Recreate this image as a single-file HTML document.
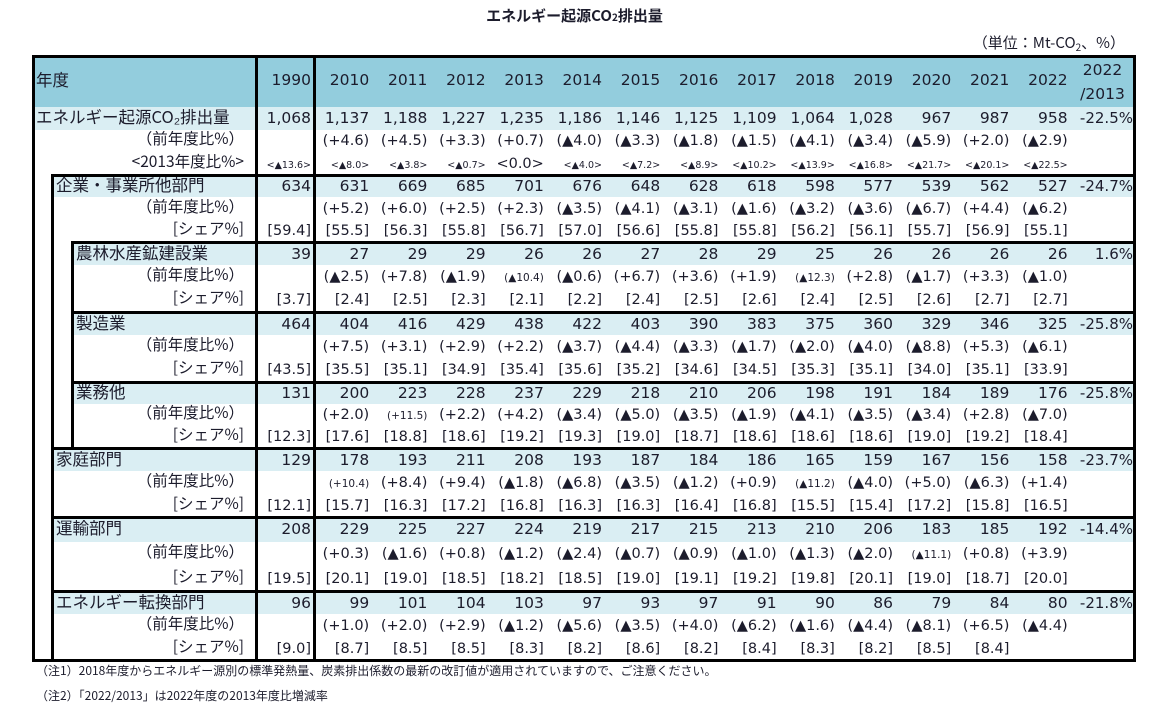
<!DOCTYPE html>
<html><head><meta charset="utf-8">
<style>
html,body{margin:0;padding:0;background:#fff;}
#root{position:relative;width:1149px;height:717px;overflow:hidden;font-family:"DejaVu Sans","Noto Sans CJK JP",sans-serif;color:#1c1c2c;}
.c{position:absolute;white-space:nowrap;line-height:1;}
.ln{position:absolute;background:#000;}
.bg{position:absolute;}
</style></head><body>
<div id="root">
<div class="c" style="left:0;width:1149px;text-align:center;top:8px;font-weight:bold;font-size:15px;font-family:'Noto Sans CJK JP',sans-serif;">エネルギー起源CO<span style="font-size:10px">2</span>排出量</div>
<div class="c" style="right:24px;top:35px;font-size:15px;font-family:'Noto Sans CJK JP',sans-serif;">（単位：Mt-CO<span style="font-size:10px;vertical-align:-3px">2</span>、%）</div>
<div class="c" style="left:36px;top:665px;font-size:12px;font-family:'Noto Sans CJK JP',sans-serif;">（注1）2018年度からエネルギー源別の標準発熱量、炭素排出係数の最新の改訂値が適用されていますので、ご注意ください。</div>
<div class="c" style="left:36px;top:690px;font-size:12px;font-family:'Noto Sans CJK JP',sans-serif;">（注2）「2022/2013」は2022年度の2013年度比増減率</div>
</div>
<script>
const years = ["1990","2010","2011","2012","2013","2014","2015","2016","2017","2018","2019","2020","2021","2022"];
const sectorNames = ["エネルギー起源CO₂排出量","企業・事業所他部門","農林水産鉱建設業","製造業","業務他","家庭部門","運輸部門","エネルギー転換部門"];
const sectorIndent = [0,1,2,2,2,1,1,1];
const totals = [
["1,068","1,137","1,188","1,227","1,235","1,186","1,146","1,125","1,109","1,064","1,028","967","987","958"],
["634","631","669","685","701","676","648","628","618","598","577","539","562","527"],
["39","27","29","29","26","26","27","28","29","25","26","26","26","26"],
["464","404","416","429","438","422","403","390","383","375","360","329","346","325"],
["131","200","223","228","237","229","218","210","206","198","191","184","189","176"],
["129","178","193","211","208","193","187","184","186","165","159","167","156","158"],
["208","229","225","227","224","219","217","215","213","210","206","183","185","192"],
["96","99","101","104","103","97","93","97","91","90","86","79","84","80"]];
const change2013 = ["-22.5%","-24.7%","1.6%","-25.8%","-25.8%","-23.7%","-14.4%","-21.8%"];
const yoy = [
["","(+4.6)","(+4.5)","(+3.3)","(+0.7)","(▲4.0)","(▲3.3)","(▲1.8)","(▲1.5)","(▲4.1)","(▲3.4)","(▲5.9)","(+2.0)","(▲2.9)"],
["","(+5.2)","(+6.0)","(+2.5)","(+2.3)","(▲3.5)","(▲4.1)","(▲3.1)","(▲1.6)","(▲3.2)","(▲3.6)","(▲6.7)","(+4.4)","(▲6.2)"],
["","(▲2.5)","(+7.8)","(▲1.9)","(▲10.4)","(▲0.6)","(+6.7)","(+3.6)","(+1.9)","(▲12.3)","(+2.8)","(▲1.7)","(+3.3)","(▲1.0)"],
["","(+7.5)","(+3.1)","(+2.9)","(+2.2)","(▲3.7)","(▲4.4)","(▲3.3)","(▲1.7)","(▲2.0)","(▲4.0)","(▲8.8)","(+5.3)","(▲6.1)"],
["","(+2.0)","(+11.5)","(+2.2)","(+4.2)","(▲3.4)","(▲5.0)","(▲3.5)","(▲1.9)","(▲4.1)","(▲3.5)","(▲3.4)","(+2.8)","(▲7.0)"],
["","(+10.4)","(+8.4)","(+9.4)","(▲1.8)","(▲6.8)","(▲3.5)","(▲1.2)","(+0.9)","(▲11.2)","(▲4.0)","(+5.0)","(▲6.3)","(+1.4)"],
["","(+0.3)","(▲1.6)","(+0.8)","(▲1.2)","(▲2.4)","(▲0.7)","(▲0.9)","(▲1.0)","(▲1.3)","(▲2.0)","(▲11.1)","(+0.8)","(+3.9)"],
["","(+1.0)","(+2.0)","(+2.9)","(▲1.2)","(▲5.6)","(▲3.5)","(+4.0)","(▲6.2)","(▲1.6)","(▲4.4)","(▲8.1)","(+6.5)","(▲4.4)"]];
const vs2013 = ["<▲13.6>","<▲8.0>","<▲3.8>","<▲0.7>","<0.0>","<▲4.0>","<▲7.2>","<▲8.9>","<▲10.2>","<▲13.9>","<▲16.8>","<▲21.7>","<▲20.1>","<▲22.5>"];
const shares = [null,
["[59.4]","[55.5]","[56.3]","[55.8]","[56.7]","[57.0]","[56.6]","[55.8]","[55.8]","[56.2]","[56.1]","[55.7]","[56.9]","[55.1]"],
["[3.7]","[2.4]","[2.5]","[2.3]","[2.1]","[2.2]","[2.4]","[2.5]","[2.6]","[2.4]","[2.5]","[2.6]","[2.7]","[2.7]"],
["[43.5]","[35.5]","[35.1]","[34.9]","[35.4]","[35.6]","[35.2]","[34.6]","[34.5]","[35.3]","[35.1]","[34.0]","[35.1]","[33.9]"],
["[12.3]","[17.6]","[18.8]","[18.6]","[19.2]","[19.3]","[19.0]","[18.7]","[18.6]","[18.6]","[18.6]","[19.0]","[19.2]","[18.4]"],
["[12.1]","[15.7]","[16.3]","[17.2]","[16.8]","[16.3]","[16.3]","[16.4]","[16.8]","[15.5]","[15.4]","[17.2]","[15.8]","[16.5]"],
["[19.5]","[20.1]","[19.0]","[18.5]","[18.2]","[18.5]","[19.0]","[19.1]","[19.2]","[19.8]","[20.1]","[19.0]","[18.7]","[20.0]"],
["[9.0]","[8.7]","[8.5]","[8.5]","[8.3]","[8.2]","[8.6]","[8.2]","[8.4]","[8.3]","[8.2]","[8.5]","[8.4]"]];

const root = document.getElementById('root');
const L = 32, R = 1135, TOP = 55, HEAD_B = 107, BOT = 660;
const boxTops = [107,175,242,312,382,448,517,591,660];
const indentX = [32,52,72];
function colRight(i){ if(i===0) return 311; return 314 + i*58.2 - 3; }
function mk(cls, style, name, text){
  const d = document.createElement('div');
  d.className = cls;
  
  
  d.style.cssText = style;
  if(text!==undefined) d.textContent = text;
  root.appendChild(d);
  return d;
}
mk('bg', `left:${L}px;top:${TOP}px;width:${R-L}px;height:${HEAD_B-TOP}px;background:#93cddd;`, 'header-row-bg');
mk('c', `left:36px;top:71px;font-size:16.5px;font-family:'Noto Sans CJK JP',sans-serif;`, 'header-year-label', '年度');
years.forEach((y,i)=>{
  mk('c', `right:${1149-colRight(i)}px;top:73px;font-size:15.5px;`, 'header-year-'+y, y);
});
const hd = mk('c', `left:1072px;width:61px;text-align:center;top:58px;font-size:15.5px;line-height:24px;`, 'header-2022-vs-2013', '');
hd.innerHTML = '2022<br>/2013';

function cellText(txt, i, y, name, size){
  mk('c', `right:${1149-colRight(i)}px;top:${y}px;font-size:${size}px;`, name, txt);
}
sectorNames.forEach((nm, s)=>{
  const t = boxTops[s], b = boxTops[s+1], h = (b-t)/3;
  const ix = indentX[sectorIndent[s]];
  mk('bg', `left:${ix}px;top:${t}px;width:${R-ix}px;height:${h}px;background:#daeef3;`, 'sector-row-bg');
  const mid = k => t + h*k + h/2 - 7;
  mk('c', `left:${ix+4}px;top:${mid(0)-3}px;font-size:16.5px;font-family:'Noto Sans CJK JP',sans-serif;`, 'sector-label', nm);
  totals[s].forEach((v,i)=>cellText(v, i, mid(0), 'emission-value', 15.5));
  mk('c', `right:${1149-1133}px;top:${mid(0)}px;font-size:15px;`, 'change-vs-2013', change2013[s]);
  mk('c', `right:${1149-244}px;top:${mid(1)-3}px;font-size:15.5px;font-family:'Noto Sans CJK JP',sans-serif;`, 'yoy-label', '（前年度比%）');
  yoy[s].forEach((v,i)=>{ if(v) cellText(v, i, v.length>=7 ? mid(1)+3 : mid(1), 'yoy-value', v.length>=7 ? 10.5 : 14.5); });
  if(s===0){
    mk('c', `right:${1149-244}px;top:${mid(2)-3}px;font-size:15.5px;font-family:'Noto Sans CJK JP',sans-serif;`, 'vs2013-label', '<2013年度比%>');
    vs2013.forEach((v,i)=>{ const big = v==='<0.0>'; cellText(v, i, big?mid(2):mid(2)+4, 'vs2013-value', big?14.5:9.5); });
  } else {
    mk('c', `right:${1149-244}px;top:${mid(2)-3}px;font-size:15.5px;font-family:'Noto Sans CJK JP',sans-serif;`, 'share-label', '[シェア%]');
    shares[s].forEach((v,i)=>cellText(v, i, mid(2), 'share-value', 14.5));
  }
  if(s>0) mk('ln', `left:${ix}px;top:${t-1}px;width:${R-ix}px;height:2.5px;`, 'section-border');
});
mk('ln', `left:255px;top:${TOP}px;width:2.5px;height:${BOT-TOP}px;`, 'col-border-1990');
mk('ln', `left:313px;top:${TOP}px;width:2.5px;height:${BOT-TOP}px;`, 'col-border-2010');
mk('ln', `left:51px;top:174px;width:2.5px;height:${BOT-174}px;`, 'indent-border-1');
mk('ln', `left:71px;top:241px;width:2.5px;height:${448-241}px;`, 'indent-border-2');
mk('ln', `left:${L}px;top:${TOP}px;width:${R-L+1}px;height:3px;`, 'outer-top');
mk('ln', `left:${L}px;top:${BOT-1}px;width:${R-L+1}px;height:3px;`, 'outer-bottom');
mk('ln', `left:${L}px;top:${TOP}px;width:3px;height:${BOT-TOP+2}px;`, 'outer-left');
mk('ln', `left:${R-2}px;top:${TOP}px;width:3px;height:${BOT-TOP+2}px;`, 'outer-right');
</script>
</body></html>
